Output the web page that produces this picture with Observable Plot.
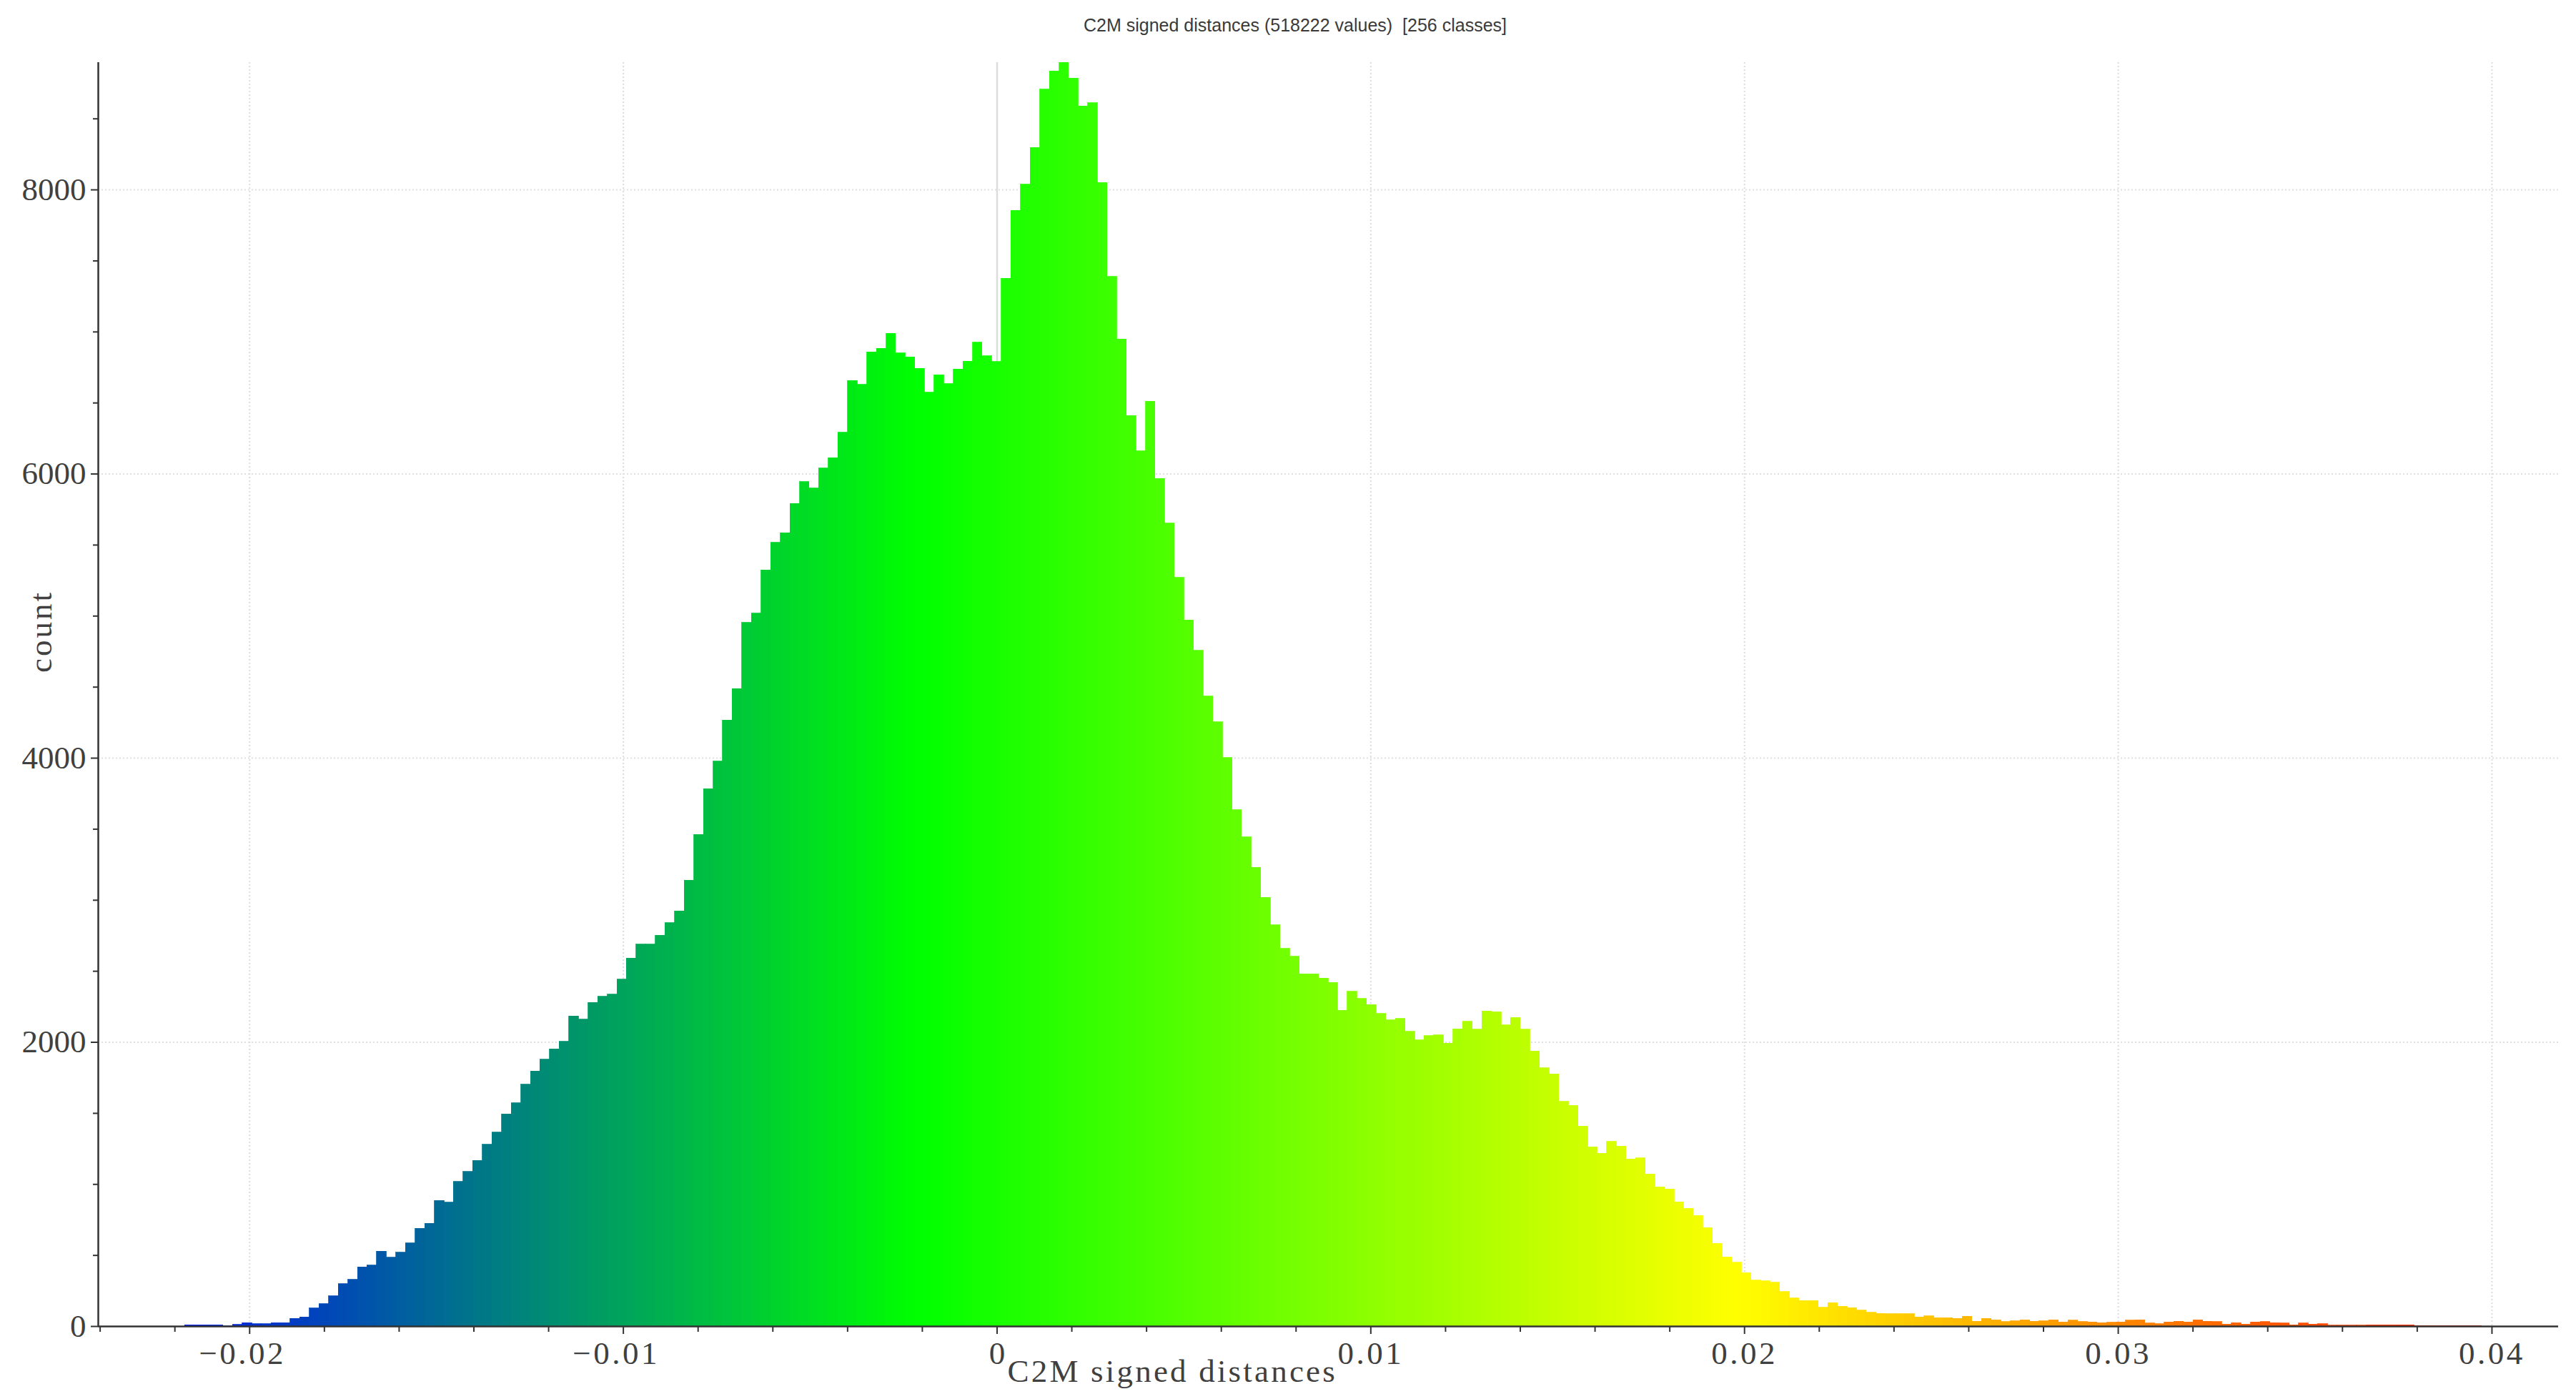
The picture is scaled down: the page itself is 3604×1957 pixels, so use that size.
<!DOCTYPE html>
<html>
<head>
<meta charset="utf-8">
<script src="https://cdn.jsdelivr.net/npm/d3@7"></script>
<script src="https://cdn.jsdelivr.net/npm/@observablehq/plot@0.6"></script>
<style>
html,body{margin:0;padding:0;background:#fff}
#title{height:74px;width:3604px;box-sizing:border-box;padding-left:20px;text-align:center;font:25px/71px "Liberation Sans",sans-serif;color:#3a3a3a;white-space:pre}
svg{display:block}
</style>
</head>
<body>
<div id="title"></div>
<div id="chart"></div>
<script>
const titleText = "C2M signed distances (518222 values)  [256 classes]";
const xLabel = "C2M signed distances";
const yLabel = "count";
const xDomain = [-0.02405, 0.04178];
const yDomain = [0, 8896];
const xMajorNeg = [-0.02, -0.01];
const xMajorPos = [0, 0.01, 0.02, 0.03, 0.04];
const xMinor = [-0.024,-0.022,-0.018,-0.016,-0.014,-0.012,-0.008,-0.006,-0.004,-0.002,0.002,0.004,0.006,0.008,0.012,0.014,0.016,0.018,0.022,0.024,0.026,0.028,0.032,0.034,0.036,0.038];
const yMajor = [0, 2000, 4000, 6000, 8000];
const yMinor = [500,1000,1500,2500,3000,3500,4500,5000,5500,6500,7000,7500,8500];
const colorStops = [0, 1/3, 2/3, 1];
const colorRange = ["#0000ff", "#00ff00", "#ffff00", "#ff0000"];
const counts = [
0,0,0,0,0,0,0,0,0,8,8,8,8,2,12,24,16,16,25,25,
55,65,128,158,213,297,329,417,428,527,485,519,586,687,723,885,871,1018,1088,1166,
1280,1366,1493,1570,1703,1794,1878,1950,2005,2182,2161,2279,2321,2336,2441,2591,2688,2688,2751,2840,
2921,3139,3461,3783,3976,4266,4487,4953,5018,5322,5517,5583,5790,5943,5898,6040,6113,6291,6655,6628,
6856,6881,6987,6849,6822,6740,6572,6695,6632,6735,6792,6926,6830,6790,7376,7853,8036,8295,8706,8834,
8896,8785,8589,8611,8050,7387,6947,6408,6161,6510,5967,5653,5270,4971,4755,4433,4252,4001,3635,3444,
3230,3019,2825,2659,2603,2480,2480,2448,2419,2224,2356,2307,2262,2199,2154,2165,2075,2015,2044,2048,
1992,2093,2145,2089,2217,2212,2120,2172,2089,1936,1817,1774,1581,1554,1408,1262,1217,1300,1267,1177,
1184,1071,981,966,874,829,779,694,582,487,449,375,323,319,307,244,197,181,181,131,
164,139,129,112,96,89,86,86,86,65,72,59,59,55,69,34,55,45,32,37,
44,35,37,44,29,42,32,30,23,27,29,42,45,22,17,28,35,28,44,34,
32,15,23,13,30,32,23,22,10,22,13,17,7,7,6,6,9,9,8,8,
8,5,5,5,5,5,5,4,0,0,0,0,0,0,0,0
];

document.getElementById("title").textContent = titleText;

const binWidth = (xDomain[1] - xDomain[0]) / counts.length;
const bins = counts.map((c, i) => ({
  x1: xDomain[0] + i * binWidth,
  x2: xDomain[0] + (i + 1) * binWidth,
  t: (i + 0.5) / counts.length,
  c
})).filter(d => d.c > 0);

const ink = "#333333";
const label = "#404040";
const tickFont = '"Liberation Serif",serif';
const fmt = d => d === 0 ? "0" : String(d).replace("-", "\u2212");
const xTickText = {tickSize: 11, tickPadding: 10, tickFormat: fmt, label: null, stroke: ink, strokeWidth: 2,
  fontSize: 45, fill: label};

const plot = Plot.plot({
  width: 3604,
  height: 1883,
  marginLeft: 137,
  marginRight: 25,
  marginTop: 13,
  marginBottom: 102,
  style: {background: "#fff", fontFamily: tickFont, fontSize: "45px", color: label, overflow: "visible"},
  x: {domain: xDomain, axis: null},
  y: {domain: yDomain, axis: null},
  color: {type: "linear", domain: colorStops, range: colorRange, interpolate: "rgb", legend: false},
  marks: [
    Plot.gridX([...xMajorNeg, ...xMajorPos.filter(d => d !== 0)], {stroke: "#dcdcdc", strokeOpacity: 1, strokeWidth: 2, strokeDasharray: "2,3"}),
    Plot.gridX([0], {stroke: "#dcdcdc", strokeOpacity: 1, strokeWidth: 2.5}),
    Plot.gridY(yMajor.filter(d => d !== 0), {stroke: "#e0e0e0", strokeOpacity: 1, strokeWidth: 2, strokeDasharray: "2,3"}),
    Plot.rectY(bins, {x1: "x1", x2: "x2", y1: 0, y2: "c", fill: "t", stroke: "t", strokeWidth: 0.8, inset: 0, shapeRendering: "crispEdges"}),
    Plot.ruleY([0], {stroke: ink, strokeWidth: 2.5}),
    Plot.ruleX([xDomain[0]], {stroke: ink, strokeWidth: 2.5}),
    Plot.axisX(xMinor, {tickSize: 8, text: null, label: null, stroke: ink, strokeWidth: 2, tickPadding: 0}),
    Plot.axisX(xMajorNeg, xTickText),
    Plot.axisX(xMajorPos, xTickText),
    Plot.axisY(yMinor, {tickSize: 7, text: null, label: null, stroke: ink, strokeWidth: 2}),
    Plot.axisY(yMajor, {tickSize: 10, tickPadding: 7, tickFormat: d => String(d), label: null, stroke: ink, strokeWidth: 2,
      fontSize: 45, fill: label}),
    Plot.text([xLabel], {frameAnchor: "bottom-left", dx: 1272, dy: 63, text: d => d, fontSize: 45, fill: label,
      textAnchor: "start", lineAnchor: "middle"}),
    Plot.text([yLabel], {frameAnchor: "left", dx: -80, dy: -88, rotate: -90, text: d => d, fontSize: 45, fill: label,
      textAnchor: "middle", lineAnchor: "middle"})
  ]
});

// Wide character spacing of the original's monospaced-looking labels.
d3.select(plot).selectAll("text").each(function () {
  const s = this.textContent;
  if (s === xLabel) this.style.letterSpacing = "3.2px";
  else if (s === yLabel) this.style.letterSpacing = "3px";
  else if (s.startsWith("\u2212")) { this.style.letterSpacing = "3.5px"; this.setAttribute("dx", -10); }
  else if (s.includes(".")) this.style.letterSpacing = "3.5px";
});
document.getElementById("chart").appendChild(plot);
</script>
</body>
</html>
